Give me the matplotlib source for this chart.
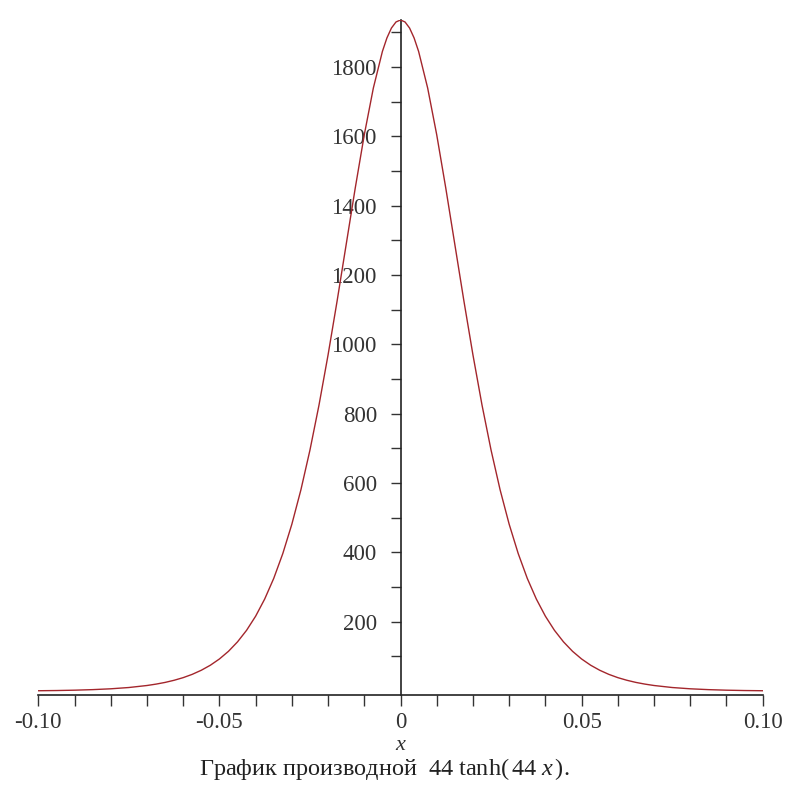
import matplotlib
matplotlib.use('Agg')
import matplotlib.pyplot as plt
import numpy as np

# Sample points of the derivative (right half, curve is symmetric about x = 0)
x_half = [0.0, 0.00125, 0.0025, 0.00375, 0.005, 0.0075, 0.01, 0.0125, 0.015,
          0.0175, 0.02, 0.0225, 0.025, 0.0275, 0.03, 0.0325, 0.035, 0.0375,
          0.04, 0.0425, 0.045, 0.0475, 0.05, 0.0525, 0.055, 0.0575, 0.06,
          0.0625, 0.065, 0.0675, 0.07, 0.075, 0.08, 0.085, 0.09, 0.095, 0.1]
y_half = [1936.0, 1930.2, 1912.8, 1884.2, 1845.2, 1739.6, 1604.8, 1451.0, 1288.4,
          1125.7, 969.9, 825.4, 695.4, 580.7, 481.5, 396.8, 325.3, 265.7,
          216.2, 175.5, 142.2, 114.9, 92.8, 74.8, 60.3, 48.5, 39.0,
          31.4, 25.2, 20.3, 16.3, 10.5, 6.8, 4.4, 2.8, 1.8, 1.2]

x_ticks = [-0.10, -0.05, 0.0, 0.05, 0.10]
x_tick_labels = ['-0.10', '-0.05', '0', '0.05', '0.10']
y_ticks = [200, 400, 600, 800, 1000, 1200, 1400, 1600, 1800]
y_tick_labels = ['200', '400', '600', '800', '1000', '1200', '1400', '1600', '1800']

plt.rcParams['font.family'] = ['Liberation Serif', 'DejaVu Serif']
plt.rcParams['mathtext.fontset'] = 'custom'
plt.rcParams['mathtext.rm'] = 'Liberation Serif'
plt.rcParams['mathtext.it'] = 'Liberation Serif:italic'

xs = np.concatenate([-np.array(x_half[:0:-1]), np.array(x_half)])
ys = np.concatenate([np.array(y_half[:0:-1]), np.array(y_half)])

fig = plt.figure(figsize=(7.85, 7.99), dpi=100)
ax = fig.add_axes([0.0488, 0.1302, 0.9228, 0.8448])
ax.plot(xs, ys, color='#a3262c', linewidth=1.0, zorder=3)

ax.set_xlim(-0.10, 0.10)
ax.set_ylim(-11, 1936)

# axes cross at the origin, Maple style
ax.spines['left'].set_position(('data', 0))
ax.spines['top'].set_visible(False)
ax.spines['right'].set_visible(False)
for s in ['left', 'bottom']:
    ax.spines[s].set_linewidth(1.2)
    ax.spines[s].set_color('#222222')

ax.set_xticks(x_ticks)
ax.set_xticklabels(x_tick_labels)
ax.set_xticks(np.arange(-0.09, 0.10, 0.01), minor=True)
ax.set_yticks(y_ticks)
ax.set_yticklabels(y_tick_labels)
ax.set_yticks(np.arange(100, 1901, 100), minor=True)

ax.tick_params(axis='x', which='both', direction='out', length=8, width=1.0,
               color='#333333', labelsize=16.5, pad=4)
ax.tick_params(axis='y', which='both', direction='out', length=7, width=1.0,
               color='#333333', labelsize=16.5, pad=10)
for lab in ax.get_xticklabels() + ax.get_yticklabels():
    lab.set_color('#333333')

fig.text(0.5096, 0.067, 'x', ha='center', va='center', fontsize=16,
         style='italic', color='#333333')
fig.text(0.489, 0.038, r'График производной  $44\ \mathrm{tanh}(\,44\ x\,)$.',
         ha='center', va='center', fontsize=17.5, color='#222222')

fig.savefig('out.png', dpi=100)
